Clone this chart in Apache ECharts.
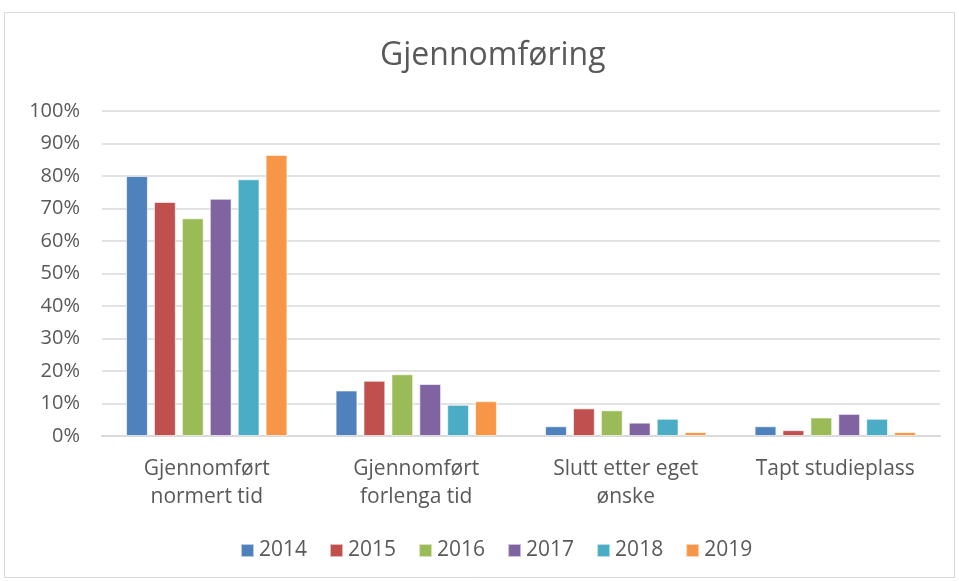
<!DOCTYPE html>
<html>
<head>
<meta charset="utf-8">
<script src="https://cdn.jsdelivr.net/npm/echarts@6/dist/echarts.min.js"></script>
<style>
html, body { margin: 0; padding: 0; background: #fff; }
#chart { width: 959px; height: 581px; }
</style>
</head>
<body>
<div id="chart"></div>
<script>
var categories = ['Gjennomført\nnormert tid', 'Gjennomført\nforlenga tid', 'Slutt etter eget\nønske', 'Tapt studieplass'];
var years = ['2014', '2015', '2016', '2017', '2018', '2019'];
var v2014 = [0.80, 0.14, 0.03, 0.03];
var v2015 = [0.72, 0.17, 0.085, 0.018];
var v2016 = [0.67, 0.19, 0.079, 0.057];
var v2017 = [0.73, 0.16, 0.041, 0.068];
var v2018 = [0.79, 0.096, 0.053, 0.053];
var v2019 = [0.865, 0.107, 0.012, 0.012];
var colors = ['#4F81BD', '#C0504D', '#9BBB59', '#8064A2', '#4BACC6', '#F79646'];

var values = [v2014, v2015, v2016, v2017, v2018, v2019];
var font = 'Open Sans';

var chart = echarts.init(document.getElementById('chart'));
var option = {
	animation: false,
	color: colors,
	title: {
		text: 'Gjennomføring',
		left: 375,
		top: 35,
		textStyle: { color: '#595959', fontSize: 32, fontWeight: 'normal', fontFamily: font }
	},
	graphic: [{
		type: 'rect',
		shape: { x: 4.5, y: 12.5, width: 950, height: 565 },
		style: { fill: 'none', stroke: '#d9d9d9', lineWidth: 1 },
		silent: true
	}],
	legend: {
		top: 535,
		left: 235,
		itemWidth: 13,
		itemHeight: 13,
		itemGap: 22,
		icon: 'rect',
		textStyle: { color: '#595959', fontSize: 21, fontFamily: font },
		data: years
	},
	grid: { left: 102, right: 19, top: 111, bottom: 145 },
	xAxis: {
		type: 'category',
		data: categories,
		axisLine: { lineStyle: { color: '#d9d9d9', width: 2 } },
		axisTick: { show: false },
		axisLabel: { color: '#595959', fontSize: 21, fontFamily: font, lineHeight: 28, margin: 19 }
	},
	yAxis: {
		type: 'value',
		min: 0,
		max: 1,
		interval: 0.1,
		axisLine: { show: false },
		axisTick: { show: false },
		splitLine: { lineStyle: { color: '#d9d9d9', width: 1.5 } },
		axisLabel: {
			color: '#595959', fontSize: 20, fontFamily: font, margin: 22,
			formatter: function (v) { return Math.round(v * 100) + '%'; }
		}
	},
	series: years.map(function (y, i) {
		return {
			name: y,
			type: 'bar',
			data: values[i],
			barGap: '28%',
			barCategoryGap: '23%',
			itemStyle: { borderColor: 'rgba(255,255,255,0.6)', borderWidth: 1 }
		};
	})
};
chart.setOption(option);
</script>
</body>
</html>
